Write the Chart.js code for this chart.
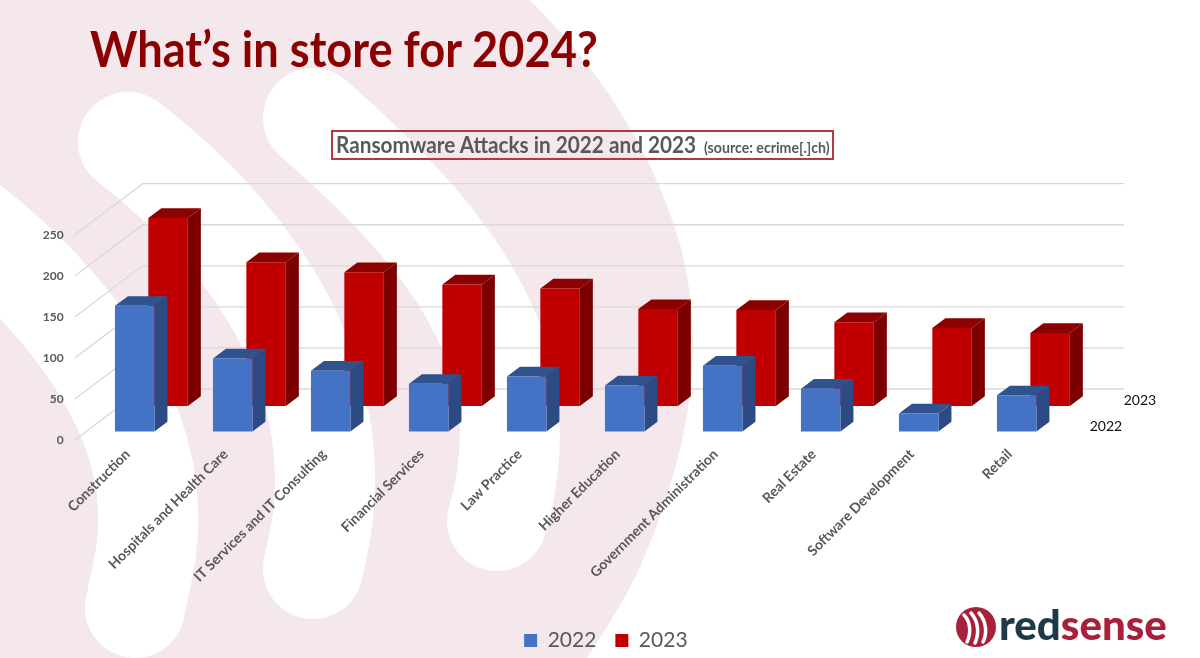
<!DOCTYPE html>
<html>
<head>
<meta charset="utf-8">
<title>What’s in store for 2024?</title>
<script src="https://cdn.jsdelivr.net/npm/chart.js@4"></script>
<style>
    html, body { margin: 0; padding: 0; background: #fff; }
    #slide { position: relative; width: 1200px; height: 658px; overflow: hidden; font-family: Lato, sans-serif; }
    #fondo { position: absolute; left: 0; top: 0; }
    #grafico { position: absolute; left: 0; top: 0; }
    #titulo { position: absolute; left: 90px; top: 18px; margin: 0; font-size: 50px; line-height: 60px; font-weight: 700; color: #8b0000; white-space: nowrap; transform: scaleX(0.904); transform-origin: left center; }
    #caja { position: absolute; left: 331px; top: 130px; width: 503px; height: 30px; box-sizing: border-box; border: 2px solid #b5393a; color: #595959; font-weight: 700; white-space: nowrap; }
    #caja div { position: absolute; left: 3px; top: 0; font-size: 22px; line-height: 26px; transform: scaleX(0.943); transform-origin: left center; }
    #caja small { font-size: 15px; margin-left: 3px; }
    #marca { position: absolute; left: 999px; top: 596px; font-size: 42px; line-height: 56px; font-weight: 900; color: #a8203a; white-space: nowrap; }
    #marca span { color: #1f3a47; }
</style>
</head>
<body>
<div id="slide">
    <svg id="fondo" width="1200" height="658" viewBox="0 0 1200 658">
        <path d="M0,0 L530,0 C590,60 650,140 680,244 C705,340 695,440 640,567 C625,600 605,630 587,658 L0,658 Z" fill="#f4e8ec"/>
        <g fill="none" stroke="#fff" stroke-width="100" stroke-linecap="round">
            <path d="M-30,225 C60,295 145,400 148,510 C150,550 140,580 135,608"/>
            <path d="M128,142 C210,205 325,320 325,480 C325,520 318,545 313,569"/>
            <path d="M313,118 C400,195 510,300 510,430 C510,465 505,495 497,521"/>
        </g>
        <circle cx="976" cy="627" r="20" fill="#a8203a"/>
        <g fill="none" stroke="#fff" stroke-width="3.5" stroke-linecap="round">
            <path d="M964,615 C971,622 971,634 967,642"/>
            <path d="M971,613 C979,622 979,634 975,643"/>
            <path d="M979,613 C987,622 987,634 983,642"/>
        </g>
    </svg>
    <canvas id="grafico" width="1200" height="658"></canvas>
    <h1 id="titulo">What’s in store for 2024?</h1>
    <div id="caja"><div>Ransomware Attacks in 2022 and 2023 <small>(source: ecrime[.]ch)</small></div></div>
    <div id="marca"><span>red</span>sense</div>
</div>
<script>
// Datos
var categorias = ['Construction', 'Hospitals and Health Care', 'IT Services and IT Consulting', 'Financial Services', 'Law Practice', 'Higher Education', 'Government Administration', 'Real Estate', 'Software Development', 'Retail'];
var valores2022 = [153, 89, 74, 58, 67, 56, 80, 52, 22, 44];
var valores2023 = [229, 175, 163, 148, 143, 118, 117, 102, 95, 89];
var ticksY = [0, 50, 100, 150, 200, 250];

// Colores de cada serie: frente, lado, tapa
var caras = [
    { frente: '#4472c4', lado: '#2c4a84', tapa: '#30528f' },
    { frente: '#c00000', lado: '#7c0000', tapa: '#8c0000' }
];
// Desplazamiento de cada fila de barras y profundidad de la caja
var filas = [{ dx: 0, dy: -8.5 }, { dx: 33.4, dy: -34 }];
var prof = { dx: 13, dy: -9.7 };
var pared = { dx: 67.7, dy: -51, derecha: 1124 };

var plugin3d = {
    id: 'plugin3d',
    afterLayout: function(chart) {
        // centrar la leyenda donde esta en la lamina
        var ley = chart.legend;
        ley.left += 73;
        ley.right += 73;
        ley.top += 3;
        ley.bottom += 3;
    },
    beforeDatasetsDraw: function(chart) {
        var ctx = chart.ctx, y = chart.scales.y, a = chart.chartArea;
        ctx.save();
        ctx.strokeStyle = '#d9d9d9';
        ctx.lineWidth = 1.3;
        ticksY.forEach(function(v) {
            var py = y.getPixelForValue(v);
            ctx.beginPath();
            ctx.moveTo(a.left - 10.7, py);
            ctx.lineTo(a.left - 10.7 + pared.dx, py + pared.dy);
            ctx.lineTo(pared.derecha, py + pared.dy);
            ctx.stroke();
        });
        ctx.restore();
    },
    beforeDatasetDraw: function(chart, args) {
        var ctx = chart.ctx, f = filas[args.index], c = caras[args.index];
        ctx.save();
        ctx.translate(f.dx, f.dy);
        args.meta.data.forEach(function(b) {
            var r = b.x + b.width / 2, l = b.x - b.width / 2;
            ctx.fillStyle = c.lado;
            ctx.beginPath();
            ctx.moveTo(r, b.y);
            ctx.lineTo(r + prof.dx, b.y + prof.dy);
            ctx.lineTo(r + prof.dx, b.base + prof.dy);
            ctx.lineTo(r, b.base);
            ctx.closePath();
            ctx.fill();
            ctx.fillStyle = c.tapa;
            ctx.beginPath();
            ctx.moveTo(l, b.y);
            ctx.lineTo(l + prof.dx, b.y + prof.dy);
            ctx.lineTo(r + prof.dx, b.y + prof.dy);
            ctx.lineTo(r, b.y);
            ctx.closePath();
            ctx.fill();
        });
    },
    afterDatasetDraw: function(chart) {
        chart.ctx.restore();
    },
    afterDraw: function(chart) {
        // etiquetas del eje de profundidad
        var ctx = chart.ctx, a = chart.chartArea;
        ctx.save();
        ctx.fillStyle = '#111';
        ctx.font = '14px Lato';
        ctx.textAlign = 'left';
        ctx.textBaseline = 'middle';
        ctx.fillText(chart.data.datasets[1].label, a.right + 58, 400);
        ctx.fillText(chart.data.datasets[0].label, a.right + 24, 426);
        ctx.restore();
    }
};

document.addEventListener('DOMContentLoaded', function() {
    var ctx = document.getElementById('grafico').getContext('2d');
    new Chart(ctx, {
        type: 'bar',
        plugins: [plugin3d],
        data: {
            labels: categorias,
            datasets: [{
                label: '2022',
                data: valores2022,
                backgroundColor: caras[0].frente
            }, {
                label: '2023',
                data: valores2023,
                backgroundColor: caras[1].frente
            }]
        },
        options: {
            responsive: false,
            animation: false,
            events: [],
            clip: false,
            grouped: false,
            barPercentage: 0.403,
            categoryPercentage: 1,
            layout: { padding: { left: 0, top: 234.7, right: 134.3, bottom: 0 } },
            scales: {
                x: {
                    afterFit: function(scale) { scale.height = 168; },
                    grid: { display: false },
                    border: { display: false },
                    ticks: {
                        autoSkip: false,
                        minRotation: 45,
                        maxRotation: 45,
                        padding: -2,
                        labelOffset: -7,
                        color: '#595959',
                        font: { family: 'Lato', size: 14, weight: 'bold' }
                    }
                },
                y: {
                    min: 0,
                    max: 250,
                    afterFit: function(scale) { scale.width = 85.7; },
                    grid: { display: false, drawTicks: false },
                    border: { display: false },
                    ticks: {
                        stepSize: 50,
                        padding: 22,
                        color: '#595959',
                        font: { family: 'Lato', size: 12, weight: 'bold' }
                    }
                }
            },
            plugins: {
                legend: {
                    position: 'bottom',
                    labels: {
                        boxWidth: 13,
                        boxHeight: 13,
                        padding: 19,
                        color: '#595959',
                        font: { family: 'Lato', size: 21 }
                    }
                },
                tooltip: { enabled: false }
            }
        }
    });
});
</script>
</body>
</html>
